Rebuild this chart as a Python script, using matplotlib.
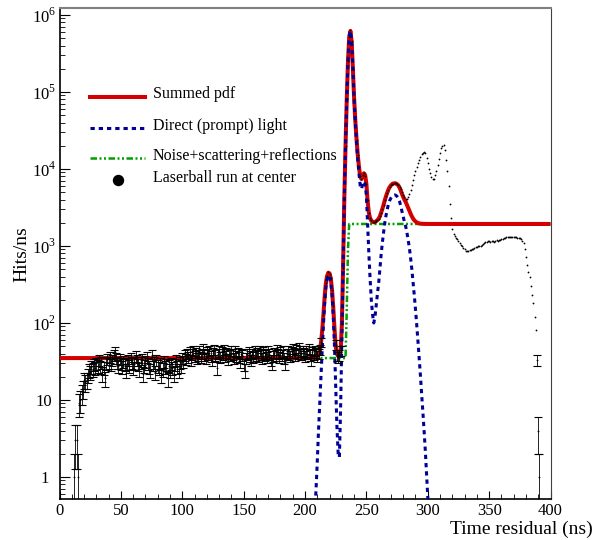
import numpy as np
import matplotlib
matplotlib.use("Agg")
import matplotlib.pyplot as plt
from matplotlib.lines import Line2D
from matplotlib.ticker import FixedLocator, FuncFormatter, MultipleLocator, NullFormatter

plt.rcParams["font.family"] = ["Liberation Serif", "DejaVu Serif"]
plt.rcParams["mathtext.fontset"] = "custom"
plt.rcParams["mathtext.rm"] = "Liberation Serif"

# --- laserball run, 1 ns bins (hits/ns), first bin at 12 ns ---
FIRST_BIN = 12
HITS_EARLY = [1, 3, 3, 1, 9, 10, 12, 14, 18,
              17, 18, 21, 24, 23, 27, 25, 29, 26, 30,
              28, 33, 27, 31, 22, 26, 19, 30, 34, 31,
              36, 29, 33, 38, 42, 35, 31, 28, 34, 30,
              27, 32, 29, 24, 30, 33, 28, 35, 31, 26,
              30, 37, 33, 29, 25, 31, 34, 22, 28, 32,
              36, 30, 27, 24, 38, 29, 31, 23, 33, 28,
              26, 30, 21, 25, 32, 27, 29, 19, 28, 24,
              30, 26, 22, 29, 33, 27, 24, 31, 28, 35,
              32, 38, 34, 40, 36, 42, 33, 39, 44, 37,
              41, 35, 38, 43, 36, 40, 46, 38, 35, 42,
              39, 44, 37, 33, 41, 45, 38, 26, 40, 43,
              36, 42, 39, 45, 37, 41, 34, 40, 38, 44,
              39, 35, 43, 37, 41, 36, 32, 40, 38, 29,
              24, 35, 39, 42, 37, 33, 40, 36, 43, 38,
              41, 37, 44, 39, 35, 42, 38, 40, 36, 43,
              39, 33, 30, 37, 41, 38, 45, 40, 36, 42,
              38, 43, 35, 30, 40, 44, 39, 37, 42, 46,
              41, 38, 45, 40, 48, 43, 39, 44, 41, 37,
              43, 40, 46, 38, 33, 42, 39, 44, 41]
HITS_PEAK = [37, 40, 45, 57, 82, 128, 215, 335, 405, 455,
             435, 385, 265, 165, 82, 52, 38, 36, 38, 44,
             98, 520, 4100, 2.0e4, 8.1e4, 2.5e5, 5.2e5, 6.3e5, 4.6e5, 2.0e5,
             8.1e4, 4.2e4, 2.4e4, 1.5e4, 1.05e4, 8000, 7500, 8400, 8800, 8200,
             6300, 3900, 2700, 2300, 2150, 2050, 2020, 2050, 2100, 2180,
             2260, 2450, 2700, 3000, 3400, 3900, 4400, 4900, 5400, 5800,
             6100, 6300, 6450, 6550, 6500, 6350, 6200, 5900, 5500, 5000,
             4600, 4300, 4100, 4100, 4300, 4700, 5300, 6200, 7200, 8300,
             9500, 10700, 11800, 13000, 14200, 15500, 16300, 16800, 16000, 14000,
             12000, 10000, 8800, 7800, 7300, 7500, 8300, 9500, 11200, 13500,
             16000, 18500, 20000, 20500, 17500, 13000, 9300, 6000, 3500, 2300,
             1650, 1450, 1350, 1280, 1220, 1160, 1100, 1040, 990, 940,
             900, 860, 870, 860, 880, 890, 900, 920, 940, 960,
             980, 990, 1010, 1000, 1040, 1060, 1090, 1110, 1130, 1150,
             1160, 1140, 1160, 1150, 1140, 1160, 1180, 1170, 1200, 1210,
             1230, 1240, 1260, 1280, 1290, 1300, 1310, 1320, 1310, 1320,
             1300, 1310, 1290, 1280, 1280, 1270, 1230, 1150, 1080, 900,
             725, 560, 460, 400, 300, 230, 180, 120, 80, 33,
             4, 1, 0, 0, 0, 0, 0, 0, 0, 0]
ERR_SHOWN_BELOW = 60   # error bars only visible on the low-count bins

# --- fitted pdf components ---
SUM_T = [0, 207, 208, 209, 210, 211, 212, 213, 214, 215, 216, 217, 218, 219,
         220, 221, 222, 223, 224, 225, 226, 227, 228, 229, 230, 231, 232, 233,
         234, 235, 236, 237, 238, 239, 240, 241, 242, 243, 244, 245, 246, 247,
         248, 249, 250, 251, 252, 253, 254, 255, 256, 257, 258, 259, 260, 261,
         262, 263, 264, 265, 266, 267, 268, 269, 270, 271, 272, 273, 274, 275,
         276, 277, 278, 279, 280, 281, 282, 283, 284, 285, 286, 287, 288, 289,
         290, 291, 292, 293, 294, 296, 300, 400]
SUM_Y = [35, 35, 35.3, 35.7, 36.6, 39, 44, 55, 80, 130, 220, 330, 410, 450,
         440, 380, 270, 160, 85, 50, 39.5, 37, 36.8, 43, 95, 535, 4035, 2.0e4,
         8.0e4, 2.5e5, 5.2e5, 6.2e5, 4.5e5, 2.0e5, 8.2e4, 4.2e4, 2.4e4, 1.5e4,
         1.05e4, 7900, 7400, 8300, 8800, 8300, 6400, 3800, 2700, 2300, 2130,
         2060, 2030, 2050, 2100, 2170, 2260, 2430, 2700, 3030, 3430, 3930, 4430,
         4930, 5430, 5830, 6130, 6380, 6480, 6530, 6480, 6330, 6130, 5730, 5230,
         4730, 4330, 3980, 3730, 3430, 3130, 2880, 2630, 2430, 2270, 2160, 2080,
         2025, 1990, 1965, 1950, 1937, 1931, 1930]

DIRECT_T = [208, 209, 210, 211, 212, 213, 214, 215, 216, 217, 218, 219, 220,
            221, 222, 223, 224, 225, 226, 227, 228, 229, 230, 231, 232, 233,
            234, 235, 236, 237, 238, 239, 240, 241, 242, 243, 244, 245, 246,
            247, 248, 249, 250, 251, 252, 253, 254, 255, 256, 257, 258, 259,
            260, 261, 262, 263, 264, 265, 266, 267, 268, 269, 270, 271, 272,
            273, 274, 275, 276, 277, 278, 279, 280, 281, 282, 283, 284, 285,
            286, 287, 288, 289, 290, 291, 292, 293, 294, 295, 296, 297, 298,
            299, 300, 301]
DIRECT_Y = [0.35, 0.7, 1.6, 4, 9, 20, 45, 95, 185, 295, 375, 415, 405,
            345, 235, 125, 50, 15, 4.5, 2.0, 1.8, 8, 60, 500, 4000, 2.0e4,
            8.0e4, 2.5e5, 5.2e5, 6.2e5, 4.5e5, 2.0e5, 8.0e4, 4.0e4, 2.2e4, 1.3e4,
            8600, 6000, 5500, 6400, 6900, 6400, 4500, 1900, 800, 380, 200, 130,
            100, 120, 170, 240, 330, 500, 770, 1100, 1500, 2000, 2500, 3000,
            3500, 3900, 4200, 4450, 4550, 4600, 4550, 4400, 4200, 3800, 3300,
            2800, 2400, 2050, 1800, 1500, 1200, 950, 700, 500, 340, 230, 150,
            95, 58, 35, 21, 12, 7, 4, 2.2, 1.1, 0.55, 0.25]

NOISE_T = [0, 233, 234, 235, 236, 400]
NOISE_Y = [35, 35, 150, 900, 1930, 1930]

LEGEND_LABELS = ["Summed pdf", "Direct (prompt) light",
                 "Noise+scattering+reflections", "Laserball run at center"]

Y_DECADES = [1, 10, 1e2, 1e3, 1e4, 1e5, 1e6]

RED = "#d40000"
BLUE = "#000099"
GREEN = "#00a000"
NOISE_DASH = (0, (2.6, 1.0, 0.8, 1.0, 0.8, 1.0))
DIRECT_DASH = (0, (1.4, 1.3))

hits = np.array(HITS_EARLY + HITS_PEAK, dtype=float)
t = FIRST_BIN + np.arange(len(hits))

fig = plt.figure(figsize=(5.94, 5.40), dpi=100)
ax = fig.add_axes([0.1002, 0.0754, 0.8266, 0.9092])

ax.plot(NOISE_T, NOISE_Y, color=GREEN, lw=1.8, ls=NOISE_DASH, zorder=2)
ax.plot(SUM_T, SUM_Y, color=RED, lw=2.9, zorder=3, solid_capstyle="butt")
ax.plot(DIRECT_T, DIRECT_Y, color=BLUE, lw=2.2, ls=DIRECT_DASH, zorder=4)

# data points + poisson error bars where they are visible
pos = hits > 0
ax.plot(t[pos], hits[pos], ls="none", marker="o", ms=1.3, mew=0,
        color="black", zorder=5)
low = pos & (hits < ERR_SHOWN_BELOW)
err = np.sqrt(hits[low])
err_lo = np.minimum(err, hits[low] * 0.999)
ax.errorbar(t[low], hits[low], yerr=[err_lo, err], fmt="none", ecolor="black",
            elinewidth=0.6, capsize=3.2, capthick=0.8, zorder=5)

ax.set_yscale("log")
ax.set_xlim(0, 400)
ax.set_ylim(0.513, 1.22e6)

ax.xaxis.set_major_locator(MultipleLocator(50))
ax.xaxis.set_minor_locator(MultipleLocator(10))
minors = [m * d for d in [0.1] + Y_DECADES for m in range(2, 10)]
minors = [v for v in minors if 0.513 < v < 1.22e6]
ax.yaxis.set_major_locator(FixedLocator(Y_DECADES))
ax.yaxis.set_minor_locator(FixedLocator(minors))
ax.yaxis.set_minor_formatter(NullFormatter())


def ylab(v, _):
    k = int(round(np.log10(v)))
    if k == 0:
        return "1"
    if k == 1:
        return "10"
    return r"$10^{%d}$" % k


ax.yaxis.set_major_formatter(FuncFormatter(ylab))
ax.tick_params(axis="both", which="both", direction="in", top=False, right=False,
               labelsize=12)
ax.tick_params(axis="x", which="major", length=6, pad=3)
ax.tick_params(axis="x", which="minor", length=3.5)
ax.tick_params(axis="y", which="major", length=7, pad=11)
ax.tick_params(axis="y", which="minor", length=3.5)
for lbl in ax.get_yticklabels():
    lbl.set_horizontalalignment("center")

for side in ["left", "bottom"]:
    ax.spines[side].set_linewidth(1.2)
ax.spines["top"].set_color("#808080")
ax.spines["top"].set_linewidth(1.5)
ax.spines["right"].set_color("#404040")

ax.set_xlabel("Time residual (ns)", fontsize=14, ha="right", va="center")
ax.xaxis.set_label_coords(1.0865, -0.0605)
ax.set_ylabel("Hits/ns", fontsize=14, va="center")
ax.yaxis.set_label_coords(-0.076, 0.5)

# ROOT-style legend, entries placed one by one (axes fraction)
leg_handles = [
    dict(color=RED, lw=2.9),
    dict(color=BLUE, lw=2.2, ls=DIRECT_DASH),
    dict(color=GREEN, lw=1.8, ls=NOISE_DASH),
    None,
]
leg_sym_y = [0.8187, 0.7556, 0.6945, 0.6503]
leg_txt_y = [0.8173, 0.7521, 0.6910, 0.6468]
for style, label, ys, yt in zip(leg_handles, LEGEND_LABELS, leg_sym_y, leg_txt_y):
    if style is None:
        ax.add_line(Line2D([0.1185], [ys], ls="none", marker="o", ms=7.2,
                           color="black", transform=ax.transAxes, clip_on=False))
    else:
        ax.add_line(Line2D([0.0621, 0.1741], [ys, ys], transform=ax.transAxes,
                           clip_on=False, **style))
    ax.text(0.1904, yt, label, transform=ax.transAxes, fontsize=11.5,
            ha="left", va="baseline")

fig.savefig("out.png", dpi=100)
